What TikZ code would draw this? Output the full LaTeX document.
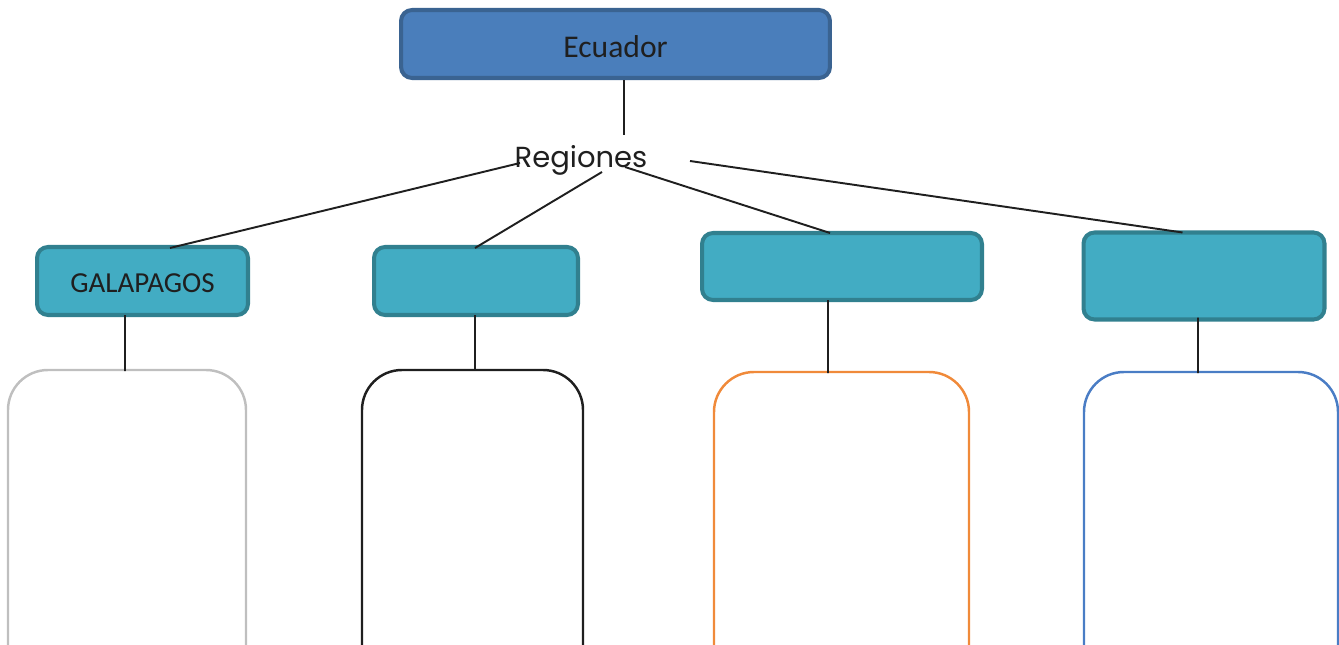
\documentclass[tikz,border=0pt]{standalone}
\usepackage{fontspec}
\setmainfont{Carlito}
\newfontfamily\gothic{Poppins}
\definecolor{ecfill}{HTML}{4A7EBB}
\definecolor{ecdraw}{HTML}{3A6391}
\definecolor{tlfill}{HTML}{42ACC3}
\definecolor{tldraw}{HTML}{31808F}
\definecolor{bxgray}{HTML}{BFBFBF}
\definecolor{bxblack}{HTML}{1F1F1F}
\definecolor{bxorange}{HTML}{F08A3A}
\definecolor{bxblue}{HTML}{4A7DC5}
\definecolor{txt}{HTML}{1F1F1F}
\tikzset{
  topbox/.style={draw=ecdraw, fill=ecfill, line width=2.3pt, rounded corners=0.22cm, text=txt, inner sep=0pt},
  regbox/.style={draw=tldraw, fill=tlfill, line width=2.3pt, rounded corners=0.22cm, text=txt, inner sep=0pt},
  conn/.style={draw=bxblack, line width=1.1pt},
  openbox/.style={line width=1.4pt, rounded corners=0.8cm},
}
\begin{document}
\begin{tikzpicture}[x=0.02cm,y=-0.02cm]
\useasboundingbox (0,0) rectangle (1339,645);
\clip (0,0) rectangle (1339,645);
% top node
\node[topbox, minimum width=8.58cm, minimum height=1.36cm, font=\fontsize{18}{22}\selectfont] (ecu) at (615.5,44) {\raisebox{-1.7pt}[\height][\depth]{Ecuador}};
\node[text=txt, inner sep=0pt, font=\gothic\fontsize{16.5}{20}\selectfont] (reg) at (581,160) {Regiones};
\coordinate (rtop) at (624,135);
\coordinate (r1) at (520,163);
\coordinate (r2) at (602,172);
\coordinate (r3) at (625,167);
\coordinate (r4) at (690,161);
% region boxes
\node[regbox, minimum width=4.22cm, minimum height=1.36cm, font=\fontsize{16.5}{20}\selectfont] (gal) at (142.5,281) {\raisebox{-1.1pt}[\height][\depth]{GALAPAGOS}};
\node[regbox, minimum width=4.08cm, minimum height=1.36cm] (b2) at (476,281) {};
\node[regbox, minimum width=5.6cm, minimum height=1.34cm] (b3) at (842,266.5) {};
\node[regbox, minimum width=4.82cm, minimum height=1.74cm] (b4) at (1204,276) {};
% bottom open boxes
\draw[openbox, draw=bxgray] (8,700) -- (8,370) -- (246,370) -- (246,700);
\draw[openbox, draw=bxblack] (362,700) -- (362,370) -- (583,370) -- (583,700);
\draw[openbox, draw=bxorange] (714,700) -- (714,372) -- (969,372) -- (969,700);
\draw[openbox, draw=bxblue] (1084,700) -- (1084,372) -- (1338,372) -- (1338,700);
\coordinate (t1) at (125,371);
\coordinate (t2) at (475,371);
\coordinate (t3) at (828,373);
\coordinate (t4) at (1198,373);
% connectors
\draw[conn] ([xshift=0.17cm]ecu.south) -- (rtop);
\draw[conn] (r1) -- ([xshift=0.55cm,yshift=-0.06cm]gal.north);
\draw[conn] (r2) -- ([xshift=-0.02cm,yshift=-0.06cm]b2.north);
\draw[conn] (r3) -- ([xshift=-0.24cm,yshift=-0.04cm]b3.north);
\draw[conn] (r4) -- ([xshift=-0.43cm,yshift=-0.04cm]b4.north);
\draw[conn] ([xshift=-0.35cm,yshift=0.04cm]gal.south) -- (t1);
\draw[conn] ([xshift=-0.02cm,yshift=0.04cm]b2.south) -- (t2);
\draw[conn] ([xshift=-0.28cm,yshift=0.04cm]b3.south) -- (t3);
\draw[conn] ([xshift=-0.12cm,yshift=0.08cm]b4.south) -- (t4);
\end{tikzpicture}
\end{document}
